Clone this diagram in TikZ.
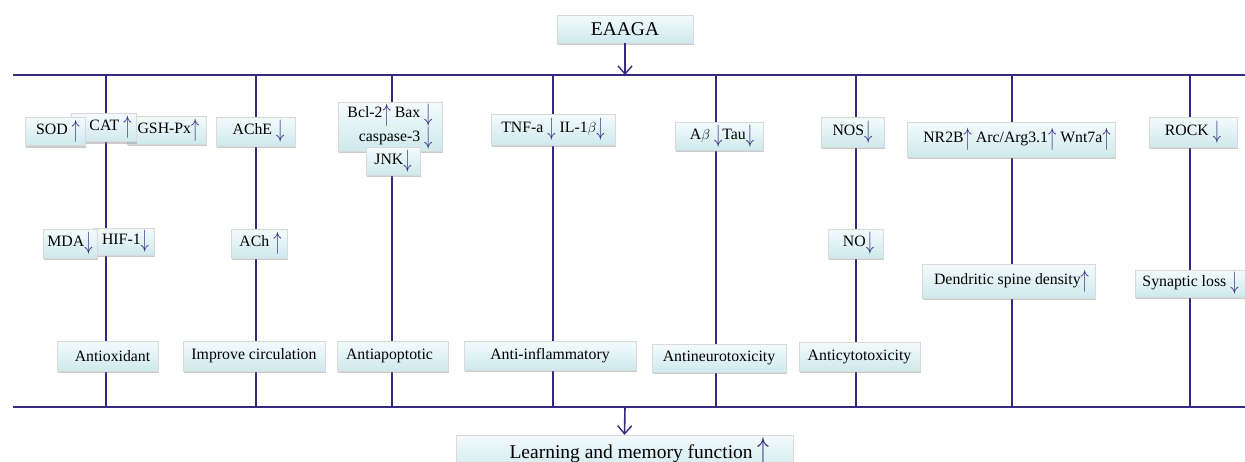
\documentclass[tikz,border=0pt]{standalone}
\usepackage{fontspec}
\setmainfont{Liberation Serif}
\usetikzlibrary{shadows,arrows.meta}
\definecolor{linec}{RGB}{52,42,128}
\definecolor{boxtop}{RGB}{244,251,252}
\definecolor{boxbot}{RGB}{206,233,237}
\newcommand{\UpA}{\textcolor{linec}{\raisebox{-0.45ex}{\scalebox{1.15}[1.75]{$\uparrow$}}}}
\newcommand{\DnA}{\textcolor{linec}{\raisebox{-0.45ex}{\scalebox{1.15}[1.75]{$\downarrow$}}}}
\pgfdeclarelayer{bg}
\pgfsetlayers{bg,main}
\tikzset{
  box/.style={rectangle, inner sep=0pt, top color=boxtop, bottom color=boxbot,
    draw=gray!30, line width=0.4pt,
    drop shadow={shadow xshift=1.2pt, shadow yshift=-2pt, opacity=0.45, fill=gray!90},
    font=\fontsize{15.8}{19}\selectfont},
  bigbox/.style={box, font=\fontsize{19.5}{22}\selectfont},
  conn/.style={draw=linec, line width=1.6pt},
  arr/.style={conn, -{Straight Barb[length=8pt,width=14pt,line width=1.4pt]}}
}
\begin{document}
\begin{tikzpicture}[x=1pt,y=-1pt]
\useasboundingbox (0,0) rectangle (1245,461);
\clip (0,0) rectangle (1245,461);
% bars
\coordinate (tl) at (13,75);  \coordinate (tr) at (1245,75);
\coordinate (bl) at (13,407); \coordinate (br) at (1245,407);
\draw[conn] (tl) -- (tr);
\draw[conn] (bl) -- (br);
\foreach \i/\x in {1/106,2/256,3/392,4/553,5/716,6/856,7/1012,8/1190}{
  \coordinate (t\i) at (\x,75);
  \coordinate (b\i) at (\x,407);
}
\begin{pgfonlayer}{bg}
\foreach \i in {1,...,8}{\draw[conn] (t\i) -- (b\i);}
\end{pgfonlayer}
% top and bottom
\node[bigbox, minimum width=136pt, minimum height=28pt] (eaaga) at (625,29) {EAAGA};
\coordinate (tmid) at (625,75);
\draw[arr] (eaaga.south) -- (tmid);
\node[bigbox, minimum width=337pt, minimum height=36pt] (learn) at (624.5,453) {\hspace*{30pt}Learning and memory function \UpA};
\coordinate (bmid) at (625,407);
\draw[arr] (bmid) -- (learn.north);
% column 1
\node[box, minimum width=79pt, minimum height=28pt] (gsh) at (166.5,130) {\hspace*{4pt}GSH-Px\UpA};
\node[box, minimum width=65pt, minimum height=28pt] (cat) at (103.5,127.5) {\hspace*{14pt}CAT \UpA};
\node[box, minimum width=60pt, minimum height=28pt] (sod) at (55,131.5) {\hspace*{6pt}SOD \UpA};
\node[box, minimum width=61pt, minimum height=27pt] (hif) at (123.5,241.5) {\hspace*{4pt}HIF-1\DnA};
\node[box, minimum width=54pt, minimum height=29pt] (mda) at (70,243.5) {MDA\DnA};
\node[box, minimum width=101pt, minimum height=30pt] (antiox) at (107.5,356) {\hspace*{10pt}Antioxidant};
% column 2
\node[box, minimum width=79pt, minimum height=29pt] (ache) at (255.5,131.5) {\hspace*{6pt}AChE \DnA};
\node[box, minimum width=56pt, minimum height=29pt] (ach) at (259,243.5) {\hspace*{3pt}ACh \UpA};
\node[box, minimum width=142pt, minimum height=30pt] (circ) at (254,356) {Improve circulation};
% column 3
\node[box, minimum width=104pt, minimum height=49pt, align=right] (bcl) at (390,126.5) {Bcl-2\UpA\ Bax \DnA\\caspase-3 \DnA};
\node[box, minimum width=54pt, minimum height=28pt] (jnk) at (393,161) {JNK\DnA};
\node[box, minimum width=111pt, minimum height=30pt] (apop) at (392.5,356) {Antiapoptotic\hspace*{6pt}};
% column 4
\node[box, minimum width=124pt, minimum height=31pt] (tnf) at (553,129.5) {TNF-a \DnA\ IL-1$\beta$\DnA};
\node[box, minimum width=172pt, minimum height=29pt] (infl) at (550,355.5) {Anti-inflammatory};
% column 5
\node[box, minimum width=88pt, minimum height=28pt] (abeta) at (719,136) {\hspace*{6pt}A$\beta$ \DnA Tau\DnA};
\node[box, minimum width=134pt, minimum height=28pt] (neuro) at (719,358) {Antineurotoxicity};
% column 6
\node[box, minimum width=63pt, minimum height=30pt] (nos) at (852.5,132) {NOS\DnA};
\node[box, minimum width=55pt, minimum height=29pt] (no) at (855.5,243.5) {\hspace*{6pt}NO\DnA};
\node[box, minimum width=121pt, minimum height=29pt] (cyto) at (859.5,356.5) {Anticytotoxicity};
% column 7
\node[box, minimum width=208pt, minimum height=35pt] (nr2b) at (1011,139.5) {\hspace*{12pt}NR2B\UpA\ Arc/Arg3.1\UpA\ Wnt7a\UpA};
\node[box, minimum width=173pt, minimum height=34pt] (dend) at (1008.5,281) {\hspace*{6pt}Dendritic spine density\UpA};
% column 8
\node[box, minimum width=88pt, minimum height=30pt] (rock) at (1193,132) {ROCK \DnA};
\node[box, minimum width=111pt, minimum height=27pt] (syn) at (1190.5,283.5) {Synaptic loss \DnA};
\end{tikzpicture}
\end{document}
